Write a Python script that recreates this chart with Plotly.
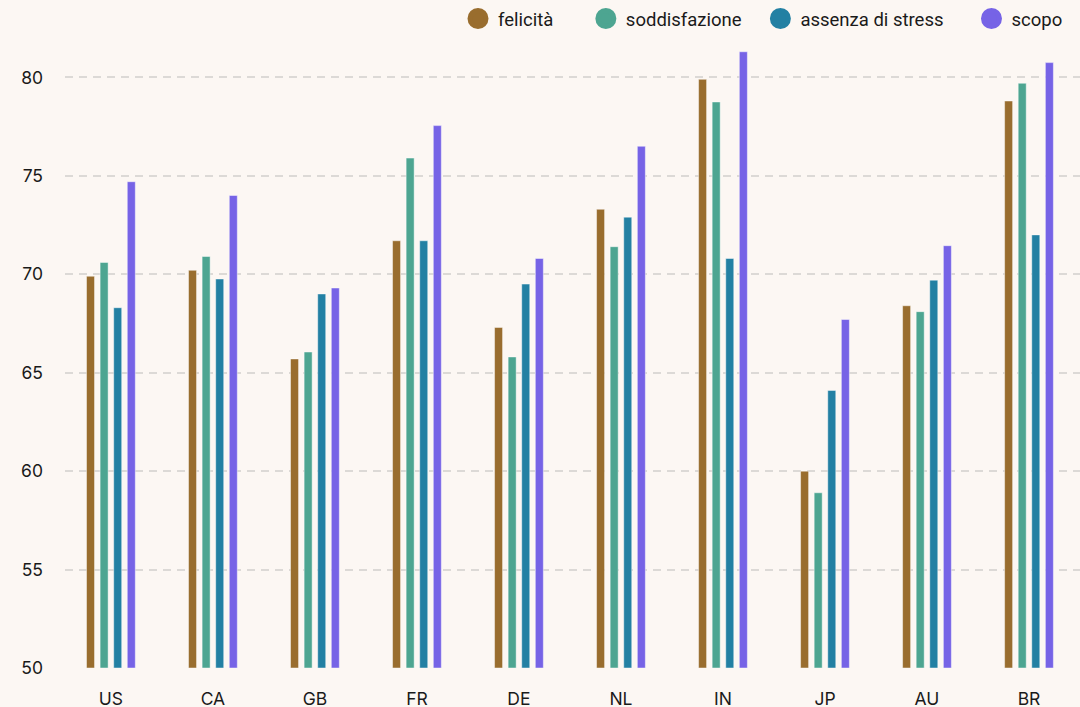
import plotly.graph_objects as go

countries = ["US", "CA", "GB", "FR", "DE", "NL", "IN", "JP", "AU", "BR"]
felicita = [69.9, 70.2, 65.7, 71.7, 67.3, 73.3, 79.9, 60.0, 68.4, 78.8]
soddisfazione = [70.6, 70.9, 66.05, 75.9, 65.8, 71.4, 78.75, 58.9, 68.1, 79.7]
assenza_stress = [68.3, 69.76, 69.0, 71.7, 69.5, 72.9, 70.8, 64.1, 69.7, 72.0]
scopo = [74.7, 74.0, 69.3, 77.55, 70.8, 76.5, 81.3, 67.7, 71.45, 80.75]

series_names = ["felicità", "soddisfazione", "assenza di stress", "scopo"]
series_values = [felicita, soddisfazione, assenza_stress, scopo]
colors = ["#996d2e", "#4da591", "#2380a3", "#7663e6"]
# invisible trailing padding to space the legend entries like the reference
legend_pad = [6, 3, 5, 0]

fig = go.Figure()
for name, vals, col in zip(series_names, series_values, colors):
    fig.add_trace(go.Bar(
        x=countries, y=[v - 50 for v in vals], base=50, name=name,
        marker=dict(color=col, line=dict(color="rgba(255,255,255,0.45)", width=1)),
        showlegend=False,
    ))
for name, col, pad in zip(series_names, colors, legend_pad):
    fig.add_trace(go.Scatter(
        x=[None], y=[None], mode="markers", name=name + "\u00a0" * pad,
        marker=dict(color=col, size=16, symbol="circle", line=dict(color=col, width=5)),
        showlegend=True,
    ))

fig.update_layout(
    width=1080, height=707,
    paper_bgcolor="#fcf7f3", plot_bgcolor="#fcf7f3",
    margin=dict(l=65, r=0, t=38, b=39, autoexpand=False),
    barmode="group", bargap=0.467, bargroupgap=0.41,
    font=dict(family="Inter", size=17, color="#1a1a1a"),
    showlegend=True,
    legend=dict(
        orientation="h", x=458 / 1080, xanchor="left", xref="container",
        y=1, yanchor="top", yref="container",
        font=dict(family="Roboto", size=18.5, color="#1a1a1a"),
        bgcolor="rgba(0,0,0,0)", itemsizing="trace",
    ),
    xaxis=dict(
        type="category", range=[-0.45, 9.5], showgrid=False, zeroline=False,
        showline=False, ticks="", ticklabelstandoff=18, automargin=False,
        tickfont=dict(family="Inter", size=17.5, color="#1a1a1a"),
    ),
    yaxis=dict(
        range=[50, 82], tickvals=[50, 55, 60, 65, 70, 75, 80],
        showgrid=True, gridcolor="#dcd9d6", griddash="8px,6px", gridwidth=1.5,
        zeroline=False, showline=False, ticks="", ticklabelstandoff=21, automargin=False,
        tickfont=dict(family="Inter", size=17.5, color="#1a1a1a"),
    ),
)

fig.write_html("out.html", config={"displayModeBar": False},
               post_script="document.body.style.margin='0';")
